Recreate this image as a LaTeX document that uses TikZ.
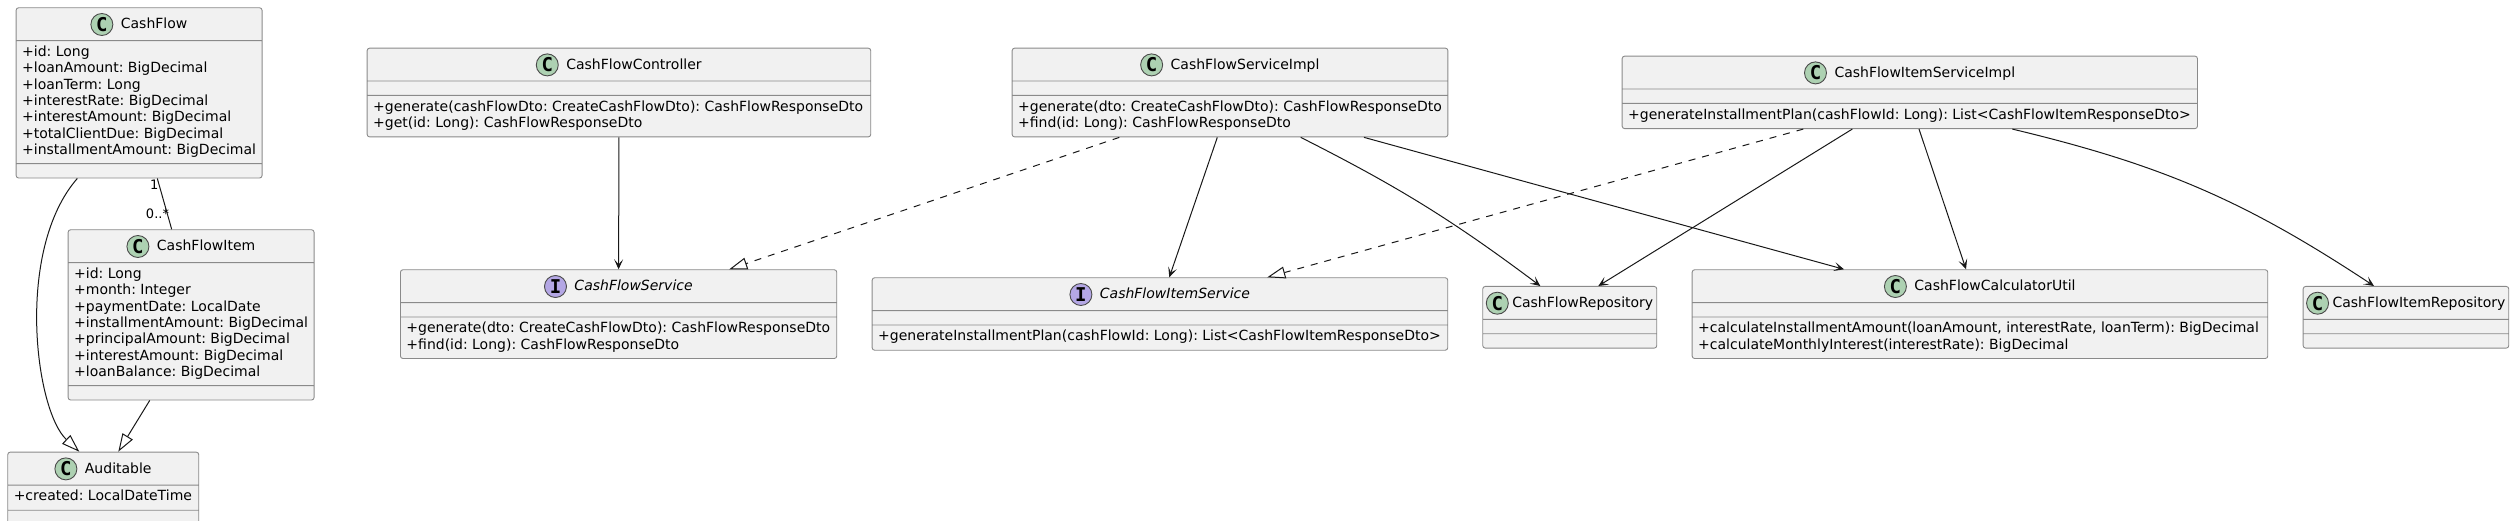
\documentclass[tikz,border=0pt]{standalone}
\usepackage{fontspec}
\setmainfont{DejaVu Sans}
\newfontfamily\iconfont{DejaVu Sans Mono}
\usetikzlibrary{arrows.meta,shapes.multipart}
\definecolor{boxfill}{HTML}{F1F1F1}
\definecolor{boxline}{HTML}{8A8A8A}
\definecolor{ink}{HTML}{181818}
\definecolor{iconline}{HTML}{4A4A4A}
\definecolor{classicon}{HTML}{ADD1B2}
\definecolor{ifaceicon}{HTML}{B4A7E5}
\newcommand{\titlestrut}{\rule[-7.4pt]{0pt}{24pt}}
\frenchspacing
\tikzset{
  umlclass/.style={rectangle split, rectangle split parts=3,
    rectangle split part align={center,left,left},
    rectangle split empty part height=0pt, rectangle split empty part depth=0pt,
    rectangle split empty part width=0pt,
    draw=boxline, line width=0.9pt, fill=boxfill, rounded corners=2.5pt,
    inner xsep=6pt, inner ysep=4pt, align=left, anchor=north west,
    font=\fontsize{14}{16.3}\selectfont},
  icon/.style={circle, draw=iconline, line width=0.9pt, inner sep=0pt, minimum size=22pt,
    font=\iconfont\bfseries\fontsize{19}{19}\selectfont},
  dependency/.style={draw=ink, line width=1pt, -{Stealth[length=10pt, width=9pt, inset=5pt]}},
  realize/.style={draw=ink, line width=1pt, dash pattern=on 7pt off 7pt,
    -{Triangle[length=18pt, width=12pt, fill=white]}},
  extends/.style={draw=ink, line width=1pt, -{Triangle[length=18pt, width=12pt, fill=white]}},
  assocline/.style={draw=ink, line width=1pt},
  mult/.style={font=\fontsize{13}{13}\selectfont, inner sep=0pt}
}

\begin{document}
\begin{tikzpicture}[x=1pt, y=-1pt]
  \useasboundingbox (0,0) rectangle (2514,521);

  % entities
  \node[umlclass, minimum width=245.6pt] (cashflow) at (15.7,7.3)
    {\titlestrut\hspace{30pt}CashFlow
     \nodepart{two}\strut+id: Long\\+loanAmount: BigDecimal\\+loanTerm: Long\\+interestRate: BigDecimal\\+interestAmount: BigDecimal\\+totalClientDue: BigDecimal\\+installmentAmount: BigDecimal\strut
     \nodepart{three}};
  \node[umlclass, minimum width=245.6pt] (cashflowitem) at (67.7,229.3)
    {\titlestrut\hspace{30pt}CashFlowItem
     \nodepart{two}\strut+id: Long\\+month: Integer\\+paymentDate: LocalDate\\+installmentAmount: BigDecimal\\+principalAmount: BigDecimal\\+interestAmount: BigDecimal\\+loanBalance: BigDecimal\strut
     \nodepart{three}};
  \node[umlclass, minimum width=191pt] (auditable) at (7.3,451.7)
    {\titlestrut\hspace{30pt}Auditable
     \nodepart{two}\strut+created: LocalDateTime\strut
     \nodepart{three}};

  % controller and services
  \node[umlclass, minimum width=503.6pt] (controller) at (366.7,47.7)
    {\titlestrut\hspace{30pt}CashFlowController
     \nodepart{two}
     \nodepart{three}\strut+generate(cashFlowDto: CreateCashFlowDto): CashFlowResponseDto\\+get(id: Long): CashFlowResponseDto\strut};
  \node[umlclass, minimum width=436.3pt] (cfservice) at (400,269.3)
    {\titlestrut\hspace{30pt}\itshape CashFlowService
     \nodepart{two}
     \nodepart{three}\strut+generate(dto: CreateCashFlowDto): CashFlowResponseDto\\+find(id: Long): CashFlowResponseDto\strut};
  \node[umlclass, minimum width=435.6pt] (serviceimpl) at (1011.7,47.7)
    {\titlestrut\hspace{30pt}CashFlowServiceImpl
     \nodepart{two}
     \nodepart{three}\strut+generate(dto: CreateCashFlowDto): CashFlowResponseDto\\+find(id: Long): CashFlowResponseDto\strut};
  \node[umlclass, minimum width=575.6pt] (itemservice) at (871.7,277.3)
    {\titlestrut\hspace{30pt}\itshape CashFlowItemService
     \nodepart{two}
     \nodepart{three}\strut+generateInstallmentPlan(cashFlowId: Long): List<CashFlowItemResponseDto>\strut};
  \node[umlclass, minimum width=575.3pt] (itemserviceimpl) at (1621.7,55.7)
    {\titlestrut\hspace{30pt}CashFlowItemServiceImpl
     \nodepart{two}
     \nodepart{three}\strut+generateInstallmentPlan(cashFlowId: Long): List<CashFlowItemResponseDto>\strut};

  % repositories and util
  \node[umlclass, minimum width=174pt, inner xsep=3pt] (cfrepo) at (1482.3,286)
    {\titlestrut\hspace{26pt}CashFlowRepository
     \nodepart{two}
     \nodepart{three}};
  \node[umlclass, minimum width=575.6pt] (calcutil) at (1691.7,269.3)
    {\titlestrut\hspace{30pt}CashFlowCalculatorUtil
     \nodepart{two}
     \nodepart{three}\strut+calculateInstallmentAmount(loanAmount, interestRate, loanTerm): BigDecimal\\+calculateMonthlyInterest(interestRate): BigDecimal\strut};
  \node[umlclass, minimum width=205.6pt, inner xsep=3pt] (itemrepo) at (2302.7,286)
    {\titlestrut\hspace{26pt}CashFlowItemRepository
     \nodepart{two}
     \nodepart{three}};

  % class marks
  \node[icon, fill=classicon] (cashflow-icon) at ([xshift=11pt,yshift=4.3pt]cashflow.text) {C};
  \node[icon, fill=classicon] (cashflowitem-icon) at ([xshift=11pt,yshift=4.3pt]cashflowitem.text) {C};
  \node[icon, fill=classicon] (auditable-icon) at ([xshift=11pt,yshift=4.3pt]auditable.text) {C};
  \node[icon, fill=classicon] (controller-icon) at ([xshift=11pt,yshift=4.3pt]controller.text) {C};
  \node[icon, fill=ifaceicon] (cfservice-icon) at ([xshift=11pt,yshift=4.3pt]cfservice.text) {I};
  \node[icon, fill=classicon] (serviceimpl-icon) at ([xshift=11pt,yshift=4.3pt]serviceimpl.text) {C};
  \node[icon, fill=ifaceicon] (itemservice-icon) at ([xshift=11pt,yshift=4.3pt]itemservice.text) {I};
  \node[icon, fill=classicon] (itemserviceimpl-icon) at ([xshift=11pt,yshift=4.3pt]itemserviceimpl.text) {C};
  \node[icon, fill=classicon] (cfrepo-icon) at ([xshift=11pt,yshift=4.3pt]cfrepo.text) {C};
  \node[icon, fill=classicon] (calcutil-icon) at ([xshift=11pt,yshift=4.3pt]calcutil.text) {C};
  \node[icon, fill=classicon] (itemrepo-icon) at ([xshift=11pt,yshift=4.3pt]itemrepo.text) {C};

  % relations
  \draw[extends] ([xshift=61.6pt]cashflow.south west) .. controls (15,250) and (35,410) .. ([xshift=72pt]auditable.north west);
  \draw[extends] ([xshift=82pt]cashflowitem.south west) -- ([xshift=111pt]auditable.north west);
  \draw[assocline] ([xshift=141.6pt]cashflow.south west) -- ([xshift=104pt]cashflowitem.north west);
  \node[mult] (mult-one) at (154.3,184.3) {1};
  \node[mult] (mult-many) at (157.5,213.3) {0..*};

  \draw[dependency] (controller.south) -- (cfservice.north);
  \draw[realize] ([xshift=107.6pt]serviceimpl.south west) -- ([xshift=329.3pt]cfservice.north west);
  \draw[dependency] ([xshift=205.6pt]serviceimpl.south west) -- ([xshift=297.6pt]itemservice.north west);
  \draw[dependency] ([xshift=289pt]serviceimpl.south west) to[bend left=5] ([xshift=58pt]cfrepo.north west);
  \draw[dependency] ([xshift=352.3pt]serviceimpl.south west) -- ([xshift=152.3pt]calcutil.north west);
  \draw[realize] ([xshift=181.6pt]itemserviceimpl.south west) -- ([xshift=395.6pt]itemservice.north west);
  \draw[dependency] ([xshift=230.6pt]itemserviceimpl.south west) -- ([xshift=116pt]cfrepo.north west);
  \draw[dependency] ([xshift=297.3pt]itemserviceimpl.south west) -- ([xshift=274.3pt]calcutil.north west);
  \draw[dependency] ([xshift=390.6pt]itemserviceimpl.south west) to[bend left=10] ([xshift=71.3pt]itemrepo.north west);
\end{tikzpicture}
\end{document}
